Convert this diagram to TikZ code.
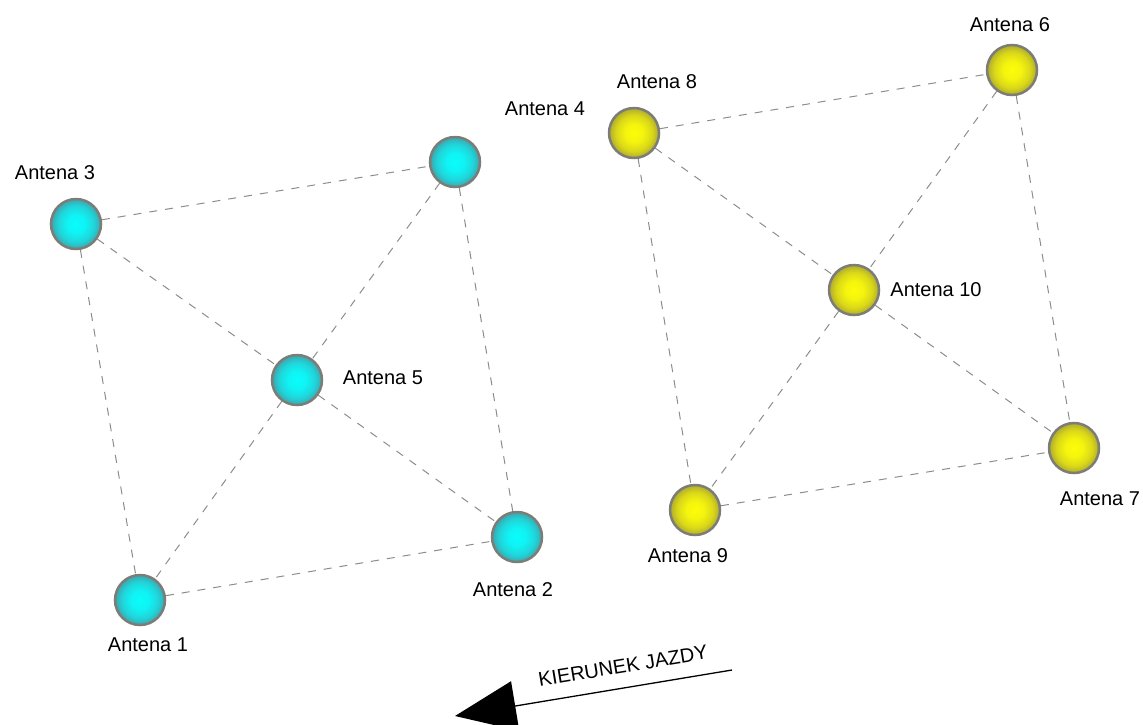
\documentclass[tikz,border=0pt]{standalone}
\usepackage{fontspec}
\setmainfont{Liberation Sans}
\usetikzlibrary{arrows.meta}

\definecolor{cyanmid}{RGB}{10,252,252}
\definecolor{cyanrim}{RGB}{60,165,175}
\definecolor{yelmid}{RGB}{252,252,10}
\definecolor{yelrim}{RGB}{175,170,45}
\definecolor{rimgray}{RGB}{125,125,120}
\definecolor{linkgray}{RGB}{140,140,140}

\pgfdeclareradialshading{cyanball}{\pgfpoint{0bp}{0bp}}{color(0bp)=(cyanmid); color(9bp)=(cyanmid!90!cyanrim); color(18bp)=(cyanmid!55!cyanrim); color(25bp)=(cyanrim); color(50bp)=(cyanrim)}
\pgfdeclareradialshading{yelball}{\pgfpoint{0bp}{0bp}}{color(0bp)=(yelmid); color(9bp)=(yelmid!90!yelrim); color(18bp)=(yelmid!55!yelrim); color(25bp)=(yelrim); color(50bp)=(yelrim)}

\begin{document}
\begin{tikzpicture}
  [x=1pt,y=-1pt,
   cyan ball/.style={circle,minimum size=50pt,inner sep=0pt,shading=cyanball,draw=rimgray,line width=2.5pt},
   yellow ball/.style={circle,minimum size=50pt,inner sep=0pt,shading=yelball,draw=rimgray,line width=2.5pt},
   tag/.style={font=\fontsize{20}{24}\selectfont,inner sep=0pt},
   link/.style={draw=linkgray,line width=1pt,dash pattern=on 8pt off 8pt}]
  \useasboundingbox (0,0) rectangle (1143,724);
  \clip (0,0) rectangle (1143,724);

  % left group
  \node[cyan ball] (a1) at (140,600) {};
  \node[cyan ball] (a2) at (517,537) {};
  \node[cyan ball] (a3) at (76,224)  {};
  \node[cyan ball] (a4) at (455,162) {};
  \node[cyan ball] (a5) at (297,380) {};

  % right group
  \node[yellow ball] (a6)  at (1012,70)  {};
  \node[yellow ball] (a7)  at (1074,448) {};
  \node[yellow ball] (a8)  at (634,133)  {};
  \node[yellow ball] (a9)  at (695,510)  {};
  \node[yellow ball] (a10) at (854,290)  {};

  \node[tag] (l1)  at (148,645) {Antena 1};
  \node[tag] (l2)  at (513,590) {Antena 2};
  \node[tag] (l3)  at (55,173)  {Antena 3};
  \node[tag] (l4)  at (545,109) {Antena 4};
  \node[tag] (l5)  at (383,378) {Antena 5};
  \node[tag] (l6)  at (1010,25) {Antena 6};
  \node[tag] (l7)  at (1100,499) {Antena 7};
  \node[tag] (l8)  at (657,82)  {Antena 8};
  \node[tag] (l9)  at (688,556) {Antena 9};
  \node[tag] (l10) at (936,290) {Antena 10};

  \draw[link] (a3) -- (a4);
  \draw[link] (a3) -- (a5);
  \draw[link] (a3) -- (a1);
  \draw[link] (a4) -- (a5);
  \draw[link] (a4) -- (a2);
  \draw[link] (a5) -- (a1);
  \draw[link] (a5) -- (a2);
  \draw[link] (a1) -- (a2);

  \draw[link] (a8) -- (a6);
  \draw[link] (a8) -- (a10);
  \draw[link] (a8) -- (a9);
  \draw[link] (a6) -- (a10);
  \draw[link] (a6) -- (a7);
  \draw[link] (a10) -- (a9);
  \draw[link] (a10) -- (a7);
  \draw[link] (a9) -- (a7);

  % direction
  \coordinate (dstart) at (732,670);
  \coordinate (dtip) at (455,716);
  \draw[line width=1.3pt,-{Triangle[length=61pt,width=50pt]}] (dstart) -- (dtip);
  \node[tag,rotate=9.4] (dir) at (623,666) {KIERUNEK JAZDY};
\end{tikzpicture}
\end{document}
